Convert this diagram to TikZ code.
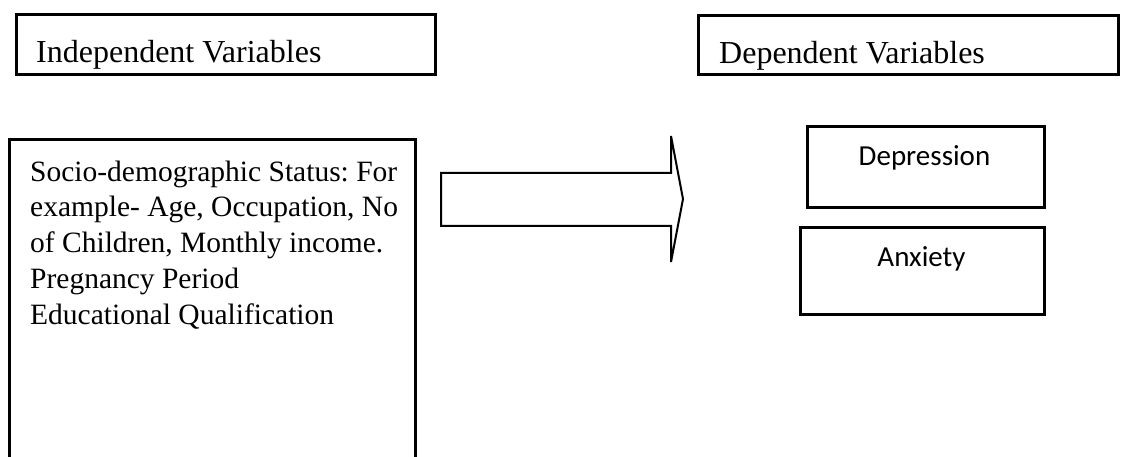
\documentclass[tikz,border=0pt]{standalone}
\usepackage{fontspec}
\setmainfont{Liberation Serif}
\newfontfamily\calib{Carlito}
\frenchspacing
\begin{document}
\begin{tikzpicture}[x=1pt,y=-1pt,
  hdrbox/.style={draw=black, line width=3pt, anchor=north west, inner sep=0pt},
  varbox/.style={draw=black, line width=2.6pt, anchor=north west, inner sep=0pt},
  hdrtext/.style={anchor=base west, inner sep=0pt, font=\fontsize{32}{36}\selectfont},
  bodytext/.style={anchor=base west, inner sep=0pt, align=left, font=\fontsize{29.5}{35.75}\selectfont},
  vartext/.style={anchor=base, inner sep=0pt, font=\calib\fontsize{29}{33}\selectfont},
  blockarrow/.style={draw=black, line width=2pt, fill=white, line join=miter}]
\useasboundingbox[fill=white] (0,0) rectangle (1128,457);
% header boxes
\node[hdrbox, minimum width=419pt, minimum height=60pt] (ivbox) at (15,13) {};
\node[hdrtext] (ivtext) at (36,63) {Independent Variables};
\node[hdrbox, minimum width=420pt, minimum height=59pt] (dvbox) at (697,14) {};
\node[hdrtext] (dvtext) at (719,64) {Dependent Variables};
% big open box
\coordinate (bbl) at (9.5,458);
\coordinate (btl) at (9.5,140);
\coordinate (btr) at (415.5,140);
\coordinate (bbr) at (415.5,458);
\draw[line width=3pt] (bbl) -- (btl) -- (btr) -- (bbr);
\node[bodytext] (body) at (30,324) {Socio-demographic Status: For\\example- Age, Occupation, No\\of Children, Monthly income.\\Pregnancy Period\\Educational Qualification};
% block arrow
\coordinate (a1) at (441,173);
\coordinate (a2) at (671,173);
\coordinate (a3) at (671,136);
\coordinate (a4) at (683,199);
\coordinate (a5) at (671,262);
\coordinate (a6) at (671,226);
\coordinate (a7) at (441,226);
\draw[blockarrow] (a1) -- (a2) -- (a3) -- (a4) -- (a5) -- (a6) -- (a7) -- cycle;
% dependent variable boxes
\node[varbox, minimum width=237pt, minimum height=81pt] (depbox) at (806,125) {};
\node[vartext] (deptext) at (924.5,166) {Depression};
\node[varbox, minimum width=244pt, minimum height=87pt] (anxbox) at (799,226) {};
\node[vartext] (anxtext) at (921.5,267) {Anxiety};
\end{tikzpicture}
\end{document}
